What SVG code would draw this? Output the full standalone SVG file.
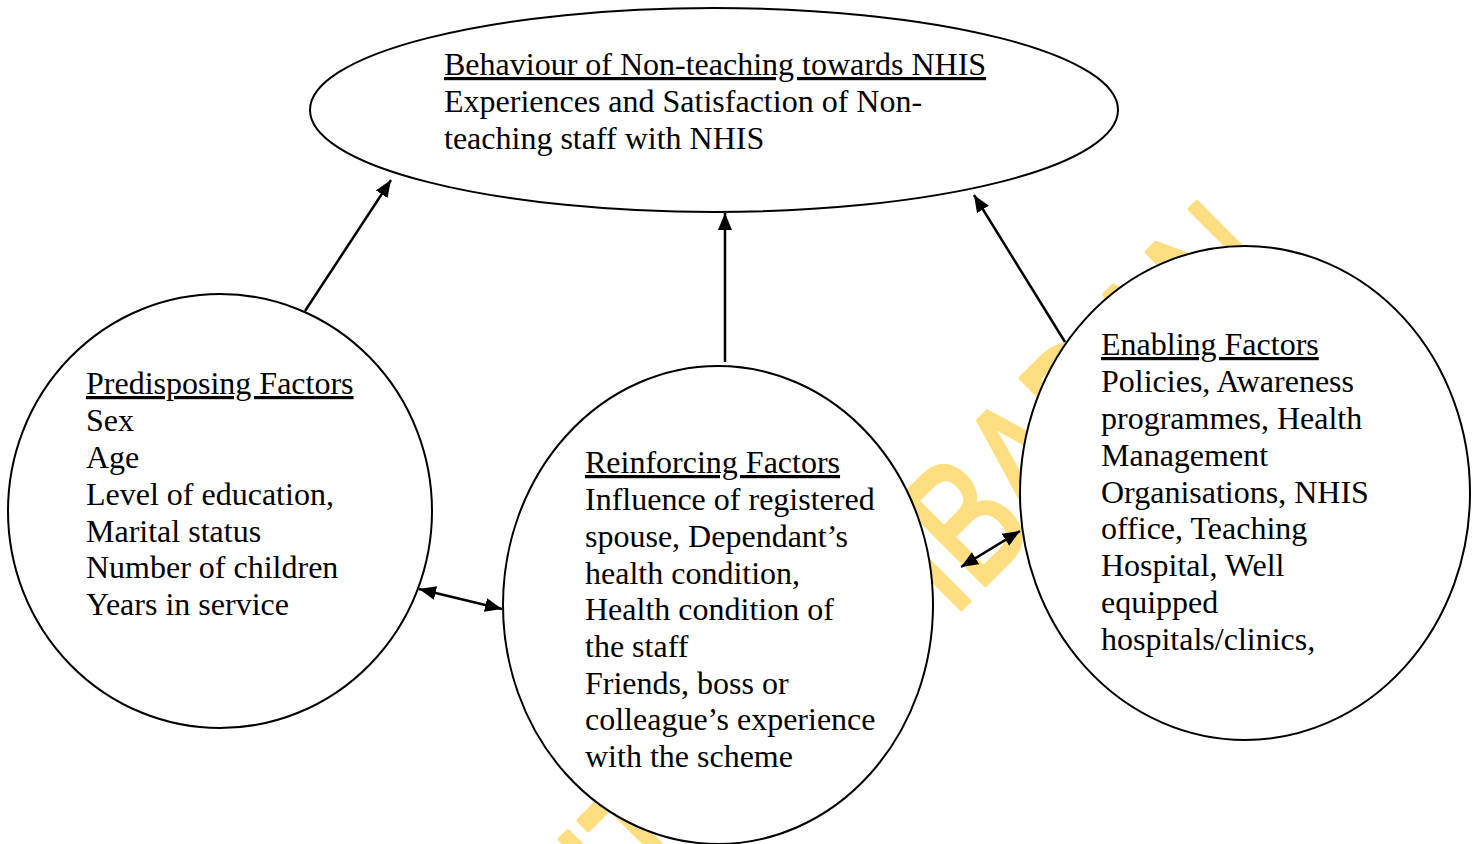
<svg xmlns="http://www.w3.org/2000/svg" width="1477" height="844" viewBox="0 0 1477 844">
  <defs>
    <marker id="head" viewBox="0 0 17 14" refX="17" refY="7" markerWidth="17" markerHeight="14" markerUnits="userSpaceOnUse" orient="auto-start-reverse">
      <path d="M0,0 L17,7 L0,14 Z" fill="#000"/>
    </marker>
  </defs>
  <style>
    .shape { fill: #fff; stroke: #000; stroke-width: 2; }
    .label { font-family: "Liberation Serif", "Times New Roman", serif; font-size: 32px; fill: #000; }
    .title { text-decoration: underline; }
    .edge { stroke: #000; stroke-width: 2.5; fill: none; }
    .wm { font-family: "Liberation Sans", Arial, sans-serif; font-size: 135px; fill: #FFDE81; stroke: #FFDE81; stroke-width: 3.5; stroke-linejoin: round; }
  </style>

  <rect width="1477" height="844" fill="#fff"/>

  <!-- library watermark, lying under the shapes -->
  <g id="watermark">
    <text class="wm" text-anchor="end" transform="translate(1290,280) rotate(-45) scale(0.95,1.3)">UNIVERSITY OF IBADAN</text>
  </g>

  <g id="connectors">
    <line class="edge" x1="305" y1="311" x2="391" y2="180" marker-end="url(#head)"/>
    <line class="edge" x1="725" y1="362" x2="725" y2="213" marker-end="url(#head)"/>
    <line class="edge" x1="1065" y1="342" x2="974" y2="195" marker-end="url(#head)"/>
    <line class="edge" x1="419" y1="589" x2="502" y2="609" marker-start="url(#head)" marker-end="url(#head)"/>
    <line class="edge" x1="961" y1="567" x2="1020" y2="531" marker-start="url(#head)" marker-end="url(#head)"/>
  </g>

  <g id="behaviour">
    <ellipse class="shape" cx="714" cy="110" rx="404" ry="102"/>
    <text class="label"><tspan class="title" x="444" y="75">Behaviour of Non-teaching towards NHIS</tspan><tspan x="444" y="112">Experiences and Satisfaction of Non-</tspan><tspan x="444" y="149">teaching staff with NHIS</tspan></text>
  </g>

  <g id="predisposing">
    <ellipse class="shape" cx="220" cy="511" rx="212" ry="217"/>
    <text class="label"><tspan class="title" x="86" y="394">Predisposing Factors</tspan><tspan x="86" y="431">Sex</tspan><tspan x="86" y="468">Age</tspan><tspan x="86" y="505">Level of education,</tspan><tspan x="86" y="542">Marital status</tspan><tspan x="86" y="578">Number of children</tspan><tspan x="86" y="615">Years in service</tspan></text>
  </g>

  <g id="reinforcing">
    <ellipse class="shape" cx="718" cy="605" rx="215" ry="239"/>
    <text class="label"><tspan class="title" x="585" y="473">Reinforcing Factors</tspan><tspan x="585" y="510">Influence of registered</tspan><tspan x="585" y="547">spouse, Dependant’s</tspan><tspan x="585" y="584">health condition,</tspan><tspan x="585" y="620">Health condition of</tspan><tspan x="585" y="657">the staff</tspan><tspan x="585" y="694">Friends, boss or</tspan><tspan x="585" y="730">colleague’s experience</tspan><tspan x="585" y="767">with the scheme</tspan></text>
  </g>

  <g id="enabling">
    <ellipse class="shape" cx="1245" cy="493" rx="225" ry="247"/>
    <text class="label"><tspan class="title" x="1101" y="355">Enabling Factors</tspan><tspan x="1101" y="392">Policies, Awareness</tspan><tspan x="1101" y="429">programmes, Health</tspan><tspan x="1101" y="466">Management</tspan><tspan x="1101" y="503">Organisations, NHIS</tspan><tspan x="1101" y="539">office, Teaching</tspan><tspan x="1101" y="576">Hospital, Well</tspan><tspan x="1101" y="613">equipped</tspan><tspan x="1101" y="650">hospitals/clinics,</tspan></text>
  </g>
</svg>
